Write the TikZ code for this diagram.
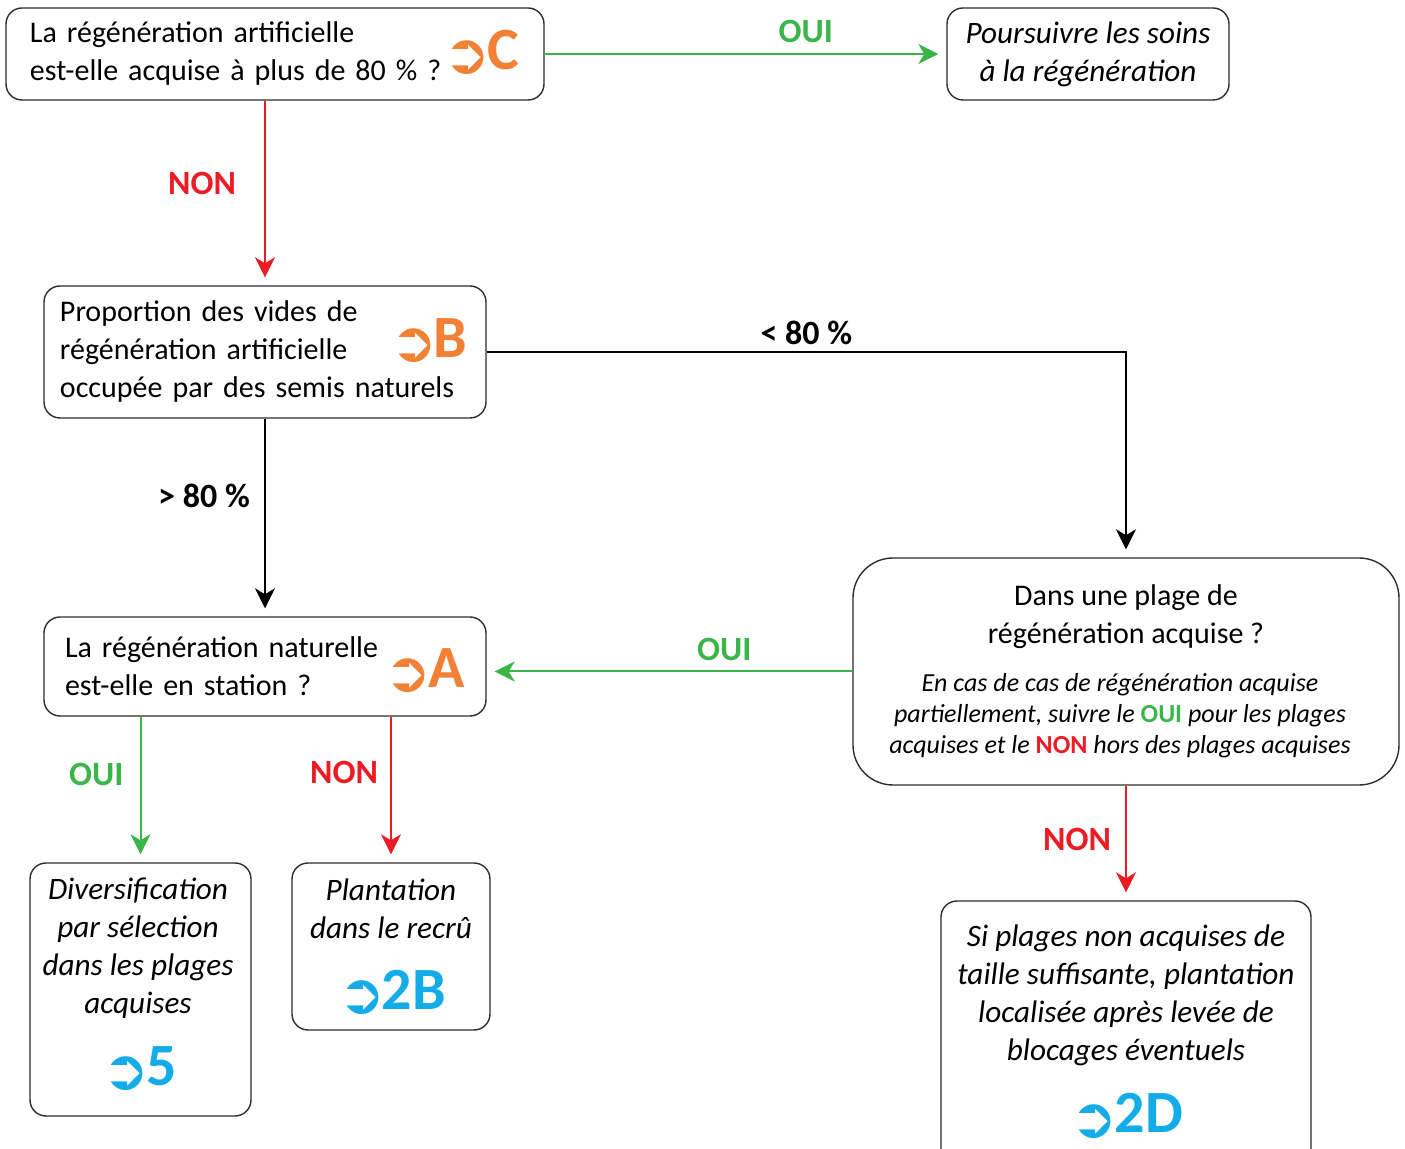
\documentclass[tikz,border=0pt]{standalone}
\usepackage{fontspec}
\setmainfont{Carlito}
\newfontfamily\arrowfont{DejaVu Sans}
\usetikzlibrary{arrows.meta,positioning}
\definecolor{ouigreen}{RGB}{57,181,74}
\definecolor{nonred}{RGB}{237,28,36}
\definecolor{tagorange}{RGB}{243,129,53}
\definecolor{tagblue}{RGB}{20,172,232}
\definecolor{boxgray}{RGB}{45,45,45}
\newcommand{\goto}[1]{{\arrowfont\fontsize{28}{28}\selectfont\raisebox{-2pt}{➲}}\kern-1.5pt#1}

\begin{document}
\begin{tikzpicture}[
		x=0.5pt, y=-0.5pt,
		base/.style={draw=boxgray, line width=0.7pt, rounded corners=8pt, font=\fontsize{15}{19}\selectfont, inner sep=0pt},
		question/.style={base, align=left},
		action/.style={base, align=center, font=\fontsize{15.6}{19}\selectfont\itshape},
		tagq/.style={text=tagorange, font=\fontsize{30}{30}\selectfont\bfseries, inner sep=0pt, anchor=base east},
		taga/.style={text=tagblue, font=\fontsize{30}{30}\selectfont\bfseries, inner sep=0pt, anchor=base},
		answer/.style={font=\fontsize{17}{17}\selectfont\bfseries, inner sep=0pt},
		link/.style={-{Stealth[length=10pt,width=10pt,inset=3pt]}, line width=1pt, shorten >=4pt},
		yes/.style={link, draw=ouigreen},
		no/.style={link, draw=nonred},
		rate/.style={link, draw=black, line width=1.2pt}
	]
	\useasboundingbox (0,0) rectangle (1405,1149);

	\node[question, minimum width=269pt, minimum height=46pt, text width=245pt, inner xsep=12pt] at (275,54) (qC) {La régénération artificielle\\est-elle acquise à plus de 80~\% ?};
	\node[tagq] at (520,70) (tagC) {\goto{C}};
	\node[action, minimum width=141pt, minimum height=46pt] at (1088,54) (soins) {Poursuivre les soins\\à la régénération};

	\node[question, minimum width=221pt, minimum height=66pt, text width=205pt, inner xsep=8pt] at (265,352) (qB) {Proportion des vides de\\régénération artificielle\\occupée par des semis naturels};
	\node[tagq] at (468,358) (tagB) {\goto{B}};

	\node[question, minimum width=221pt, minimum height=49.5pt, text width=200pt, inner xsep=10.5pt] at (265,666.5) (qA) {La régénération naturelle\\est-elle en station ?};
	\node[tagq] at (465,688) (tagA) {\goto{A}};

	\node[base, rounded corners=20pt, minimum width=273pt, minimum height=113.5pt] at (1126,671.5) (qD) {};
	\node[align=center, font=\fontsize{15}{19}\selectfont] at (1126,617) (qDtitle) {Dans une plage de\\régénération acquise ?};
	\node[align=center, font=\fontsize{13}{15.5}\selectfont\itshape] at (1120,715.5) (qDnote) {En cas de cas de régénération acquise\\partiellement, suivre le \textcolor{ouigreen}{\upshape\bfseries OUI} pour les plages\\acquises et le \textcolor{nonred}{\upshape\bfseries NON} hors des plages acquises};

	\node[action, minimum width=110.5pt, minimum height=126.5pt] at (140.5,989.5) (div) {};
	\node[align=center, font=\fontsize{15.6}{19}\selectfont\itshape] at (138,948) (divtext) {Diversification\\par sélection\\dans les plages\\acquises};
	\node[taga] at (140,1086) (tag5) {\goto{5}};

	\node[action, minimum width=99pt, minimum height=83.5pt] at (391,946.5) (plant) {};
	\node[align=center, font=\fontsize{15.6}{19}\selectfont\itshape] at (391,909) (planttext) {Plantation\\dans le recrû};
	\node[taga] at (392,1010) (tag2B) {\goto{2B}};

	\node[action, minimum width=185pt, minimum height=132pt] at (1126,1033) (si) {};
	\node[align=center, font=\fontsize{15.6}{19}\selectfont\itshape] at (1126,995) (sitext) {Si plages non acquises de\\taille suffisante, plantation\\localisée après levée de\\blocages éventuels};
	\node[taga] at (1127,1133) (tag2D) {\goto{2D}};

	\draw[yes] (qC) -- node[answer, above=5pt, pos=0.65, text=ouigreen] {OUI} (soins);
	\draw[no] (qC.south -| qB.north) -- node[answer, left=14pt, pos=0.45, text=nonred] {NON} (qB.north);
	\draw[rate] (qB.east) -| node[answer, above=3pt, pos=0.25] {< 80~\%} (qD.north);
	\draw[rate] (qB) -- node[answer, left=7pt, pos=0.39] {> 80~\%} (qA);
	\draw[yes] (qD.west) -- node[answer, above=5pt, pos=0.35, text=ouigreen] {OUI} (qD.west -| qA.east);
	\draw[yes] (qA.south -| div.north) -- node[answer, left=8pt, pos=0.4, text=ouigreen] {OUI} (div.north);
	\draw[no] (qA.south -| plant.north) -- node[answer, left=6pt, pos=0.38, text=nonred] {NON} (plant.north);
	\draw[no] (qD) -- node[answer, left=7pt, pos=0.47, text=nonred] {NON} (si);

\end{tikzpicture}
\end{document}
